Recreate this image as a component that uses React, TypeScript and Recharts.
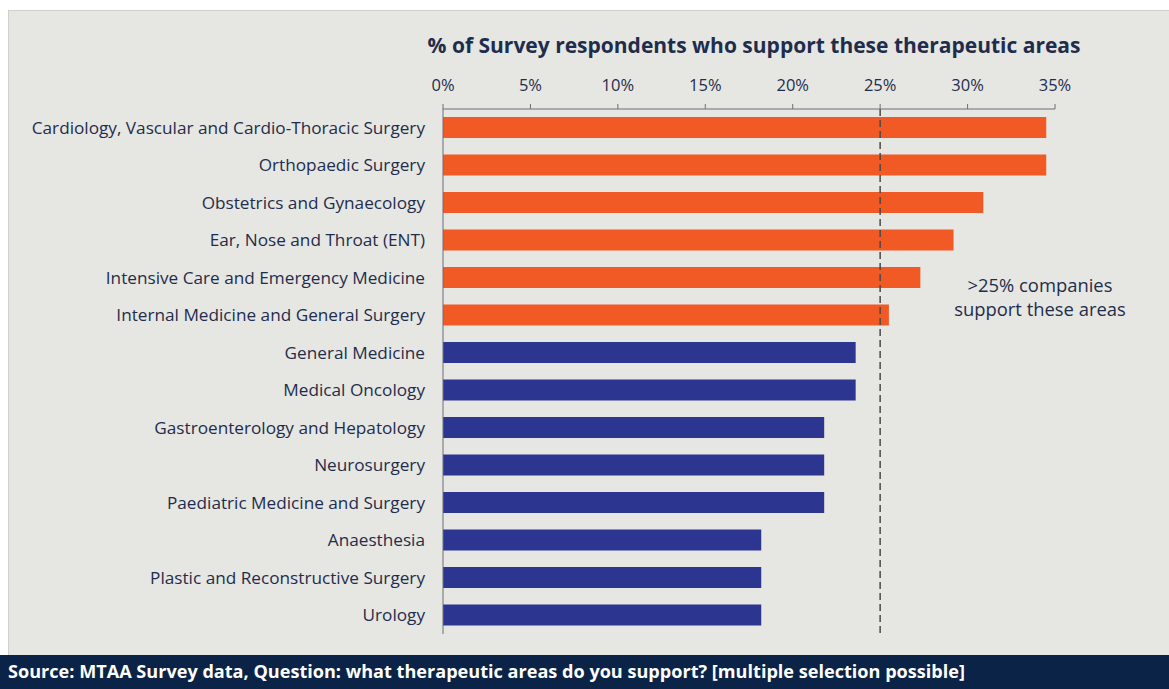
import React from 'react';
import { BarChart, Bar, XAxis, YAxis, Cell, ReferenceLine } from 'recharts';

const areas = [
  'Cardiology, Vascular and Cardio-Thoracic Surgery',
  'Orthopaedic Surgery',
  'Obstetrics and Gynaecology',
  'Ear, Nose and Throat (ENT)',
  'Intensive Care and Emergency Medicine',
  'Internal Medicine and General Surgery',
  'General Medicine',
  'Medical Oncology',
  'Gastroenterology and Hepatology',
  'Neurosurgery',
  'Paediatric Medicine and Surgery',
  'Anaesthesia',
  'Plastic and Reconstructive Surgery',
  'Urology',
];

const support = [34.5, 34.5, 30.9, 29.2, 27.3, 25.5, 23.6, 23.6, 21.8, 21.8, 21.8, 18.2, 18.2, 18.2];

const xTicks = [0, 5, 10, 15, 20, 25, 30, 35];
const threshold = 25;

const data = areas.map((name, i) => ({ name, value: support[i] }));

const ORANGE = '#f15a24';
const BLUE = '#2c3590';
const NAVY = '#1f2d4d';
const FONT = '"Open Sans", "Noto Sans", sans-serif';

export default function App() {
  return (
    <div style={{ position: 'fixed', left: 0, top: 0, width: 1169, height: 689, background: '#fff', fontFamily: FONT, overflow: 'hidden' }}>
      {/* grey slide panel */}
      <div style={{ position: 'absolute', left: 8, top: 10, width: 1161, height: 645, background: '#e6e6e2', borderLeft: '1px solid #d0d0cc', borderTop: '1px solid #d0d0cc' }} />

      <div style={{ position: 'absolute', left: 354, top: 31, width: 800, textAlign: 'center', fontSize: 21, fontWeight: 700, color: NAVY, whiteSpace: 'nowrap' }}>
        % of Survey respondents who support these therapeutic areas
      </div>

      <div style={{ position: 'absolute', left: 0, top: 0 }}>
        <BarChart
          width={1169}
          height={655}
          data={data}
          layout="vertical"
          margin={{ top: 79, right: 114, bottom: 21, left: 0 }}
        >
          <XAxis
            type="number"
            orientation="top"
            domain={[0, 35]}
            ticks={xTicks}
            tickFormatter={(v) => `${v}%`}
            height={30}
            tickSize={5}
            tickMargin={13}
            stroke="#6b6f78"
            tick={{ fill: NAVY, fontSize: 16.5, fontFamily: FONT }}
          />
          <YAxis
            type="category"
            dataKey="name"
            width={443}
            tickLine={false}
            tickSize={0}
            tickMargin={18}
            stroke="#6b6f78"
            tick={{ fill: NAVY, fontSize: 17.2, fontFamily: FONT }}
            interval={0}
          />
          <Bar dataKey="value" barSize={21} isAnimationActive={false}>
            {data.map((d, i) => (
              <Cell key={i} fill={d.value > threshold ? ORANGE : BLUE} />
            ))}
          </Bar>
          <ReferenceLine x={threshold} stroke="#4a4a4a" strokeWidth={1.5} strokeDasharray="7 4" />
        </BarChart>
      </div>

      <div style={{ position: 'absolute', left: 940, top: 273, width: 200, textAlign: 'center', fontSize: 18.4, lineHeight: '24px', color: NAVY, whiteSpace: 'nowrap' }}>
        &gt;25% companies
        <br />
        support these areas
      </div>

      <div style={{ position: 'absolute', left: 0, top: 655, width: 1169, height: 34, background: '#0b2346' }}>
        <div style={{ position: 'absolute', left: 8, top: 4, fontSize: 18.1, fontWeight: 700, color: '#fff', whiteSpace: 'nowrap' }}>
          Source: MTAA Survey data, Question: what therapeutic areas do you support? [multiple selection possible]
        </div>
      </div>
    </div>
  );
}
